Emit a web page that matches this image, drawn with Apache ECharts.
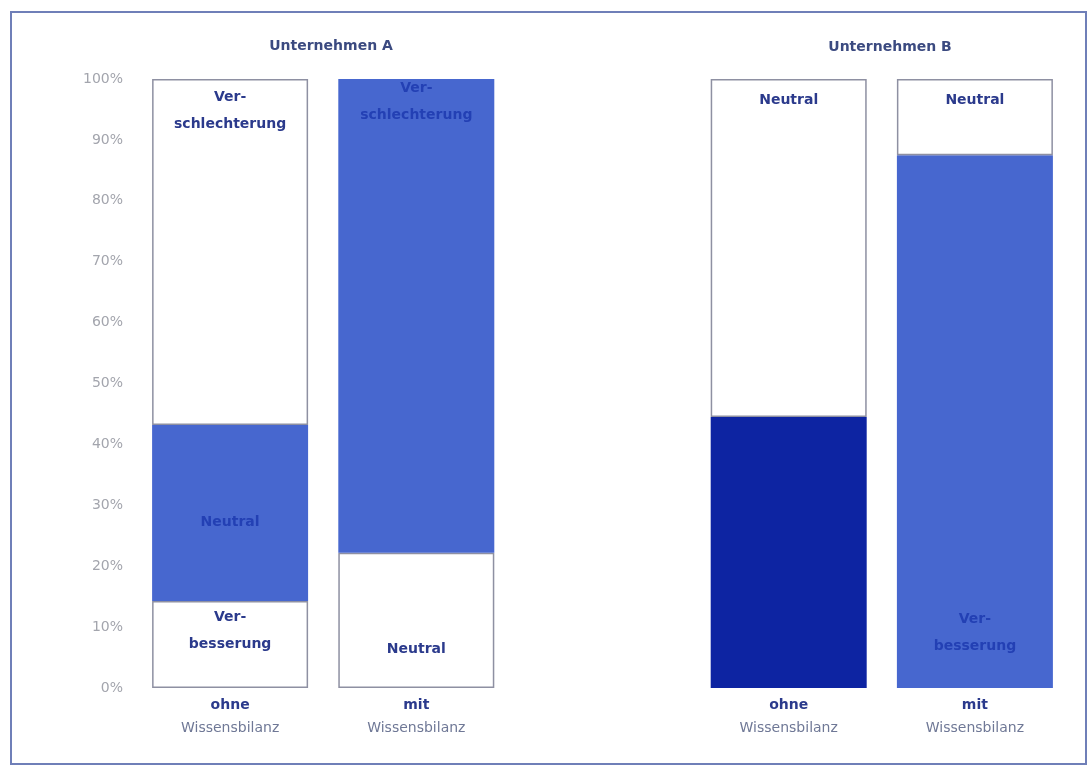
<!DOCTYPE html>
<html>
<head>
<meta charset="utf-8">
<script src="https://cdn.jsdelivr.net/npm/echarts@6/dist/echarts.min.js"></script>
<style>html,body{margin:0;padding:0;background:#fff}#c{width:1090px;height:768px}</style>
</head>
<body>
<div id="c"></div>
<script>
// ---- data ----
const groupTitles = ['Unternehmen A', 'Unternehmen B'];
const barPrefix = ['ohne', 'mit', '', 'ohne', 'mit'];
const barSuffix = ['Wissensbilanz', 'Wissensbilanz', '', 'Wissensbilanz', 'Wissensbilanz'];
const yTicks = [0, 10, 20, 30, 40, 50, 60, 70, 80, 90, 100];

// stacked segments, bottom -> top (percent)
const bottomValues = [14.3, 22.2, null, 44.5, 87.5];
const middleValues = [28.9, 77.8, null, 55.5, 12.5];
const topValues    = [56.8, null, null, null, null];

const bottomKinds = ['white', 'white', null, 'dark', 'medium'];
const middleKinds = ['medium', 'medium', null, 'white', 'white'];
const topKinds    = ['white', null, null, null, null];

const bottomLabels = ['Ver-\nbesserung', 'Neutral', '', '', 'Ver-\nbesserung'];
const middleLabels = ['Neutral', 'Ver-\nschlechterung', '', 'Neutral', 'Neutral'];
const topLabels    = ['Ver-\nschlechterung', '', '', '', ''];

// ---- styling ----
const fill = { white: '#ffffff', medium: '#4767cf', dark: '#0d24a2' };
const textOn = { white: '#2b3a8c', medium: '#2340b4', dark: '#0d24a2' };
const FONT = '"DejaVu Sans", Verdana, sans-serif';

// label placement per [series][category]
const place = [
  [{p:'insideTop',d:3},{p:'insideBottom',d:25},null,null,{p:'insideBottom',d:28}],
  [{p:'inside',o:[0,9]},{p:'insideTop',d:-4},null,{p:'insideTop',d:8},{p:'insideTop',d:8}],
  [{p:'insideTop',d:5},null,null,null,null]
];

function buildData(values, kinds, labels, si) {
  return values.map((v, i) => {
    if (v == null) return null;
    const k = kinds[i];
    const pl = place[si][i] || {p:'inside'};
    const lab = {
      show: !!labels[i],
      formatter: labels[i] || '',
      position: pl.p,
      color: textOn[k],
      fontFamily: FONT,
      fontWeight: 'bold',
      fontSize: 14,
      lineHeight: 27
    };
    if (pl.d != null) lab.distance = pl.d;
    if (pl.o) lab.offset = pl.o;
    return {
      value: v,
      itemStyle: {
        color: fill[k],
        borderColor: k === 'white' ? '#8e90a2' : fill[k],
        borderWidth: k === 'white' ? 1.5 : 0
      },
      label: lab
    };
  });
}

const categories = barPrefix.map((p, i) => p ? p + '\n' + barSuffix[i] : '');

const chart = echarts.init(document.getElementById('c'));
chart.setOption({
  backgroundColor: '#ffffff',
  animation: false,
  title: [
    { text: groupTitles[0], left: 326, top: 34, textAlign: 'center',
      textStyle: { fontFamily: FONT, fontSize: 14, fontWeight: 'bold', color: '#3b4a80' } },
    { text: groupTitles[1], left: 885, top: 35, textAlign: 'center',
      textStyle: { fontFamily: FONT, fontSize: 14, fontWeight: 'bold', color: '#3b4a80' } }
  ],
  graphic: [{
    type: 'rect', shape: { x: 11, y: 12, width: 1075, height: 752 },
    style: { fill: 'none', stroke: '#6f7fb8', lineWidth: 2 }, silent: true
  }],
  grid: { left: 137, right: 22, top: 79, bottom: 80 },
  xAxis: {
    type: 'category',
    data: categories,
    axisLine: { show: false },
    axisTick: { show: false },
    axisLabel: {
      margin: 6,
      interval: 0,
      formatter: function (val) {
        if (!val) return '';
        const parts = val.split('\n');
        return '{b|' + parts[0] + '}\n{n|' + parts[1] + '}';
      },
      rich: {
        b: { fontFamily: FONT, fontSize: 14, fontWeight: 'bold', color: '#2b3a8c', lineHeight: 23 },
        n: { fontFamily: FONT, fontSize: 14, color: '#6f7896', lineHeight: 23 }
      }
    }
  },
  yAxis: {
    type: 'value', min: yTicks[0], max: yTicks[yTicks.length - 1], interval: 10,
    axisLine: { show: false }, axisTick: { show: false }, splitLine: { show: false },
    axisLabel: { formatter: '{value}%', color: '#a3a5ad', fontFamily: FONT, fontSize: 14, margin: 14 }
  },
  series: [
    { type: 'bar', stack: 's', barWidth: 156, data: buildData(bottomValues, bottomKinds, bottomLabels, 0) },
    { type: 'bar', stack: 's', barWidth: 156, data: buildData(middleValues, middleKinds, middleLabels, 1) },
    { type: 'bar', stack: 's', barWidth: 156, data: buildData(topValues, topKinds, topLabels, 2) }
  ]
});
</script>
</body>
</html>
